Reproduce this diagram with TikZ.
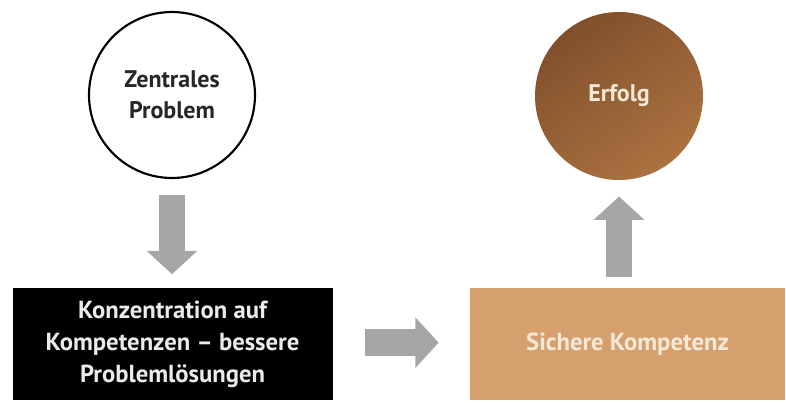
\documentclass[tikz,border=0pt]{standalone}
\usepackage{fontspec}
\setmainfont{PT Sans}
\usetikzlibrary{arrows.meta}

\definecolor{arrowgray}{RGB}{166,166,166}
\definecolor{kupferdark}{RGB}{128,80,44}
\definecolor{kupfermid}{RGB}{208,148,92}
\definecolor{kupferlow}{RGB}{172,114,64}
\definecolor{sand}{RGB}{213,160,110}
\definecolor{cream}{RGB}{246,232,214}

\tikzset{every picture/.style={line width=0.75pt}}
\tikzset{
  bigarrow/.style={draw=arrowgray, line width=20pt, -{Triangle[width=37pt,length=17.5pt]}},
  kreis/.style={circle, minimum size=124.5pt, inner sep=0pt, align=center, font=\bfseries\fontsize{18}{23}\selectfont},
  kasten/.style={rectangle, minimum width=240pt, minimum height=84pt, inner sep=0pt, align=center, font=\bfseries\fontsize{18.5}{24}\selectfont}
}

\begin{document}
\begin{tikzpicture}[x=0.75pt,y=0.75pt,yscale=-1,xscale=1]
	\useasboundingbox (0,0) rectangle (786,406);

	%Shape: Circle [id:zentral]
	\node [kreis, draw=black, line width=1.6pt, fill=white, text=black!85] (zp) at (172,95) {Zentrales\\Problem};
	%Shape: Circle [id:erfolg]
	\node [kreis, minimum size=126pt, top color=kupferdark, middle color=kupfermid, bottom color=kupferlow, shading angle=35, text=cream] (erfolg) at (619,96) {Erfolg};

	%Shape: Rectangle [id:konzentration]
	\node [kasten, fill=black, text=white!92!black] (konz) at (172.5,344) {Konzentration auf\\Kompetenzen -- bessere\\Problemlösungen};
	%Shape: Rectangle [id:kompetenz]
	\node [kasten, minimum width=236.5pt, fill=sand, text=cream] (komp) at (627.5,344) {Sichere Kompetenz};

	%Block Arrows
	\draw [bigarrow, shorten <=12, shorten >=10] (zp.south) -- (zp.south |- konz.north);
	\draw [bigarrow, shorten <=24, shorten >=23] ([yshift=-1]konz.east) -- ([yshift=-1]komp.west);
	\draw [bigarrow, shorten <=8, shorten >=12] (erfolg.south |- komp.north) -- (erfolg.south);

\end{tikzpicture}
\end{document}
